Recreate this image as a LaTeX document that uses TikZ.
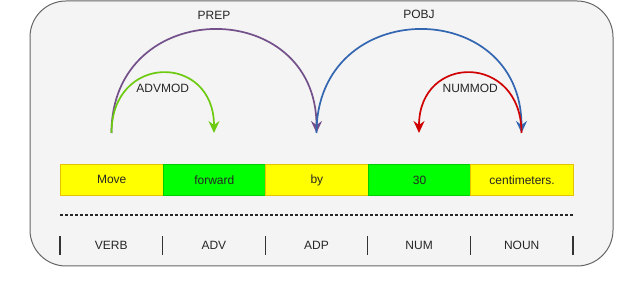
\documentclass[tikz,border=0pt]{standalone}
\usepackage{fontspec}
\setmainfont{Liberation Sans}
\usetikzlibrary{arrows.meta}
\definecolor{bgfill}{HTML}{F4F4F4}
\definecolor{frame}{HTML}{666666}
\definecolor{ylw}{HTML}{FFFF00}
\definecolor{ylwb}{HTML}{E6C200}
\definecolor{grn}{HTML}{00FF00}
\definecolor{grnb}{HTML}{00CC00}
\definecolor{cprep}{HTML}{74508A}
\definecolor{cpobj}{HTML}{3366B0}
\definecolor{cadv}{HTML}{6CCB10}
\definecolor{cnum}{HTML}{D00000}
\tikzset{
  txt/.style={font=\fontsize{12}{13}\selectfont, text=black!85, inner sep=0pt},
  word/.style={txt, minimum width=102.6pt, minimum height=31pt, line width=0.8pt, anchor=north west},
  ywd/.style={word, fill=ylw, draw=ylwb},
  gwd/.style={word, fill=grn, draw=grnb},
  dep/.style={line width=1.7pt, -{Stealth[length=12pt, width=11pt, inset=4pt]}},
  posbar/.style={line width=1.2pt, black!80},
}
\begin{document}
\begin{tikzpicture}[x=1pt, y=-1pt]
\useasboundingbox (0,0) rectangle (640,291);
\draw[frame, fill=bgfill, line width=1pt, rounded corners=36pt] (30,1) rectangle (613,266);
% words
\node[ywd] (w1) at (60,164) {Move};
\node[gwd] (w2) at (162.6,164) {forward};
\node[ywd] (w3) at (265.2,164) {by};
\node[gwd] (w4) at (367.8,164) {30};
\node[ywd] (w5) at (470.4,164) {centimeters.};
% arc anchors
\coordinate (a1) at (111.5,133);
\coordinate (a2) at (214,133);
\coordinate (a3) at (316.5,133);
\coordinate (a4) at (419,133);
\coordinate (a5) at (521.5,133);
\draw[dep, cprep] (a1) to[out=90, in=90, looseness=1.72] node[pos=0.5, above=10pt, txt] (lprep) {PREP} (a3);
\draw[dep, cpobj] (a3) to[out=90, in=90, looseness=1.72] node[pos=0.5, above=10pt, txt] (lpobj) {POBJ} (a5);
\draw[dep, cadv] (a1) to[out=90, in=90, looseness=2.0] node[pos=0.5, below=10pt, txt] (ladv) {ADVMOD} (a2);
\draw[dep, cnum] (a5) to[out=90, in=90, looseness=2.0] node[pos=0.5, below=10pt, txt] (lnum) {NUMMOD} (a4);
% dashed line
\coordinate (d1) at (60,215);
\coordinate (d2) at (573,215);
\draw[line width=1.2pt, black!85, dash pattern=on 3pt off 2pt] (d1) -- (d2);
% POS bars
\foreach \i/\x in {0/60,1/162.6,2/265.2,3/367.8,4/470.4,5/573}{
  \coordinate (b\i t) at (\x,236);
  \coordinate (b\i b) at (\x,255);
  \draw[posbar] (b\i t) -- (b\i b);
}
\node[txt] (p1) at (111.3,245.5) {VERB};
\node[txt] (p2) at (213.9,245.5) {ADV};
\node[txt] (p3) at (316.5,245.5) {ADP};
\node[txt] (p4) at (419.1,245.5) {NUM};
\node[txt] (p5) at (521.7,245.5) {NOUN};
\end{tikzpicture}
\end{document}
